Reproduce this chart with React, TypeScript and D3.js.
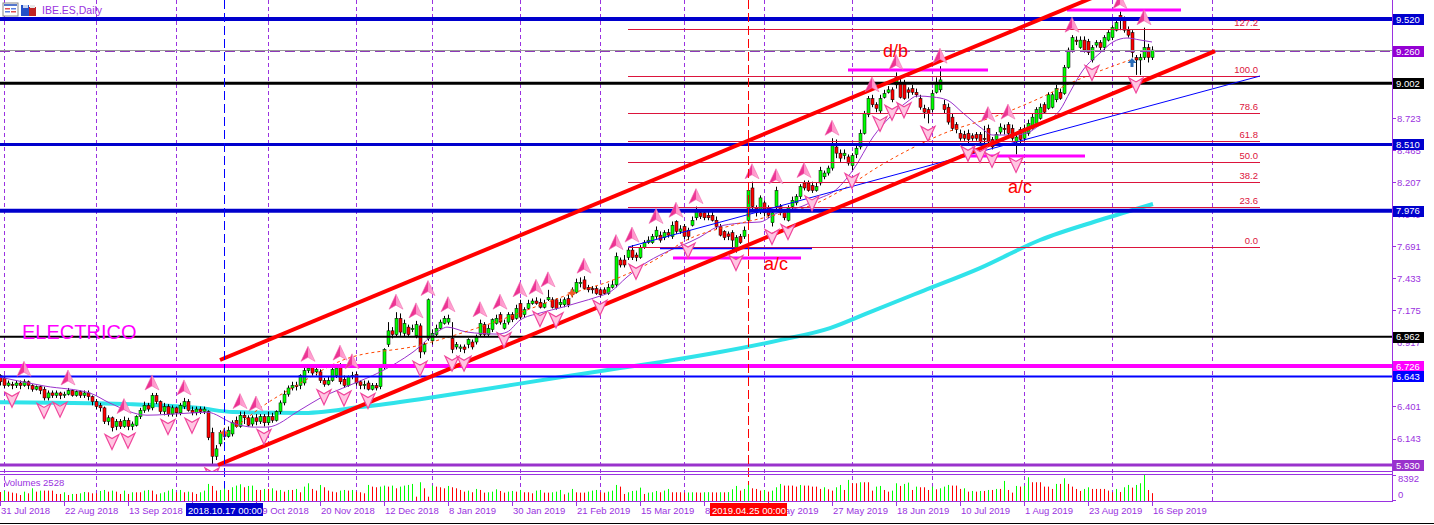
import React from "react";
import * as d3 from "d3";

// ---------- DATA ----------
// daily candles [open, high, low, close], bar 0 = 31 Jul 2018, bar 288 = 16 Sep 2019
const candles: number[][] = [
[6.65,6.66,6.57,6.60],[6.63,6.65,6.55,6.57],[6.57,6.61,6.56,6.59],[6.58,6.60,6.54,6.57],[6.57,6.61,6.55,6.59],
[6.59,6.61,6.54,6.57],[6.57,6.62,6.56,6.60],[6.60,6.61,6.54,6.57],[6.57,6.58,6.52,6.54],[6.54,6.57,6.53,6.56],
[6.56,6.57,6.50,6.53],[6.54,6.56,6.45,6.47],[6.47,6.53,6.45,6.51],[6.51,6.53,6.47,6.49],[6.49,6.53,6.47,6.51],
[6.51,6.52,6.46,6.49],[6.49,6.52,6.47,6.50],[6.50,6.55,6.49,6.53],[6.53,6.54,6.48,6.49],[6.49,6.53,6.48,6.52],
[6.52,6.53,6.47,6.49],[6.49,6.53,6.47,6.51],[6.51,6.53,6.45,6.48],[6.48,6.49,6.41,6.44],[6.44,6.46,6.38,6.40],
[6.41,6.43,6.36,6.39],[6.39,6.40,6.26,6.28],[6.28,6.33,6.25,6.31],[6.31,6.32,6.20,6.23],[6.24,6.30,6.21,6.28],
[6.28,6.30,6.22,6.24],[6.24,6.32,6.23,6.29],[6.29,6.31,6.21,6.24],[6.24,6.28,6.21,6.26],[6.25,6.33,6.24,6.32],
[6.32,6.39,6.30,6.37],[6.37,6.44,6.35,6.41],[6.41,6.43,6.36,6.38],[6.39,6.51,6.37,6.49],[6.49,6.51,6.42,6.44],
[6.44,6.45,6.34,6.36],[6.36,6.43,6.33,6.40],[6.40,6.42,6.32,6.34],[6.34,6.41,6.32,6.39],[6.39,6.40,6.32,6.35],
[6.35,6.43,6.33,6.41],[6.40,6.47,6.38,6.44],[6.44,6.46,6.36,6.37],[6.37,6.40,6.33,6.35],[6.35,6.40,6.33,6.38],
[6.38,6.40,6.34,6.36],[6.36,6.40,6.34,6.38],[6.36,6.37,6.13,6.15],[6.19,6.23,5.93,6.00],[6.00,6.09,5.97,6.06],
[6.10,6.21,6.08,6.19],[6.19,6.23,6.13,6.16],[6.16,6.24,6.15,6.21],[6.18,6.29,6.16,6.27],[6.29,6.32,6.23,6.24],
[6.24,6.36,6.23,6.33],[6.33,6.36,6.26,6.31],[6.31,6.33,6.24,6.25],[6.26,6.33,6.24,6.31],[6.31,6.34,6.25,6.28],
[6.28,6.34,6.26,6.32],[6.32,6.34,6.24,6.27],[6.27,6.36,6.25,6.32],[6.32,6.35,6.27,6.29],[6.29,6.37,6.28,6.36],
[6.36,6.45,6.34,6.43],[6.43,6.53,6.41,6.50],[6.50,6.57,6.48,6.55],[6.55,6.60,6.53,6.57],[6.57,6.60,6.53,6.56],
[6.57,6.66,6.54,6.65],[6.59,6.73,6.57,6.69],[6.69,6.74,6.67,6.71],[6.72,6.74,6.65,6.67],[6.68,6.73,6.65,6.70],
[6.68,6.70,6.59,6.61],[6.61,6.63,6.56,6.58],[6.58,6.64,6.57,6.61],[6.61,6.73,6.60,6.70],[6.65,6.73,6.63,6.71],
[6.73,6.75,6.58,6.60],[6.62,6.65,6.55,6.57],[6.57,6.65,6.56,6.64],[6.64,6.68,6.62,6.65],[6.66,6.68,6.57,6.59],
[6.60,6.61,6.54,6.57],[6.57,6.61,6.54,6.58],[6.59,6.61,6.53,6.54],[6.54,6.59,6.53,6.57],[6.57,6.59,6.53,6.55],
[6.56,6.73,6.54,6.72],[6.72,6.87,6.70,6.86],[6.90,7.08,6.88,7.01],[7.01,7.04,6.95,6.98],[6.98,7.16,6.96,7.11],
[7.11,7.15,6.97,7.00],[6.99,7.10,6.96,7.07],[7.04,7.06,6.96,6.98],[7.02,7.06,7.00,7.03],[6.97,7.09,6.95,7.06],
[7.05,7.07,6.79,6.84],[6.84,6.92,6.82,6.90],[6.95,7.27,6.93,7.26],[6.93,7.02,6.90,6.99],[6.98,7.06,6.96,7.03],
[7.03,7.10,7.02,7.08],[7.07,7.13,7.06,7.11],[7.08,7.14,7.06,7.11],[6.95,7.08,6.83,6.86],[6.88,6.92,6.86,6.90],
[6.87,6.90,6.84,6.88],[6.88,6.90,6.83,6.86],[6.90,6.95,6.87,6.94],[6.92,6.94,6.86,6.88],[6.92,6.98,6.90,6.96],
[6.98,7.10,6.96,7.07],[7.06,7.08,6.96,6.98],[6.98,7.06,6.96,7.03],[7.02,7.11,7.00,7.10],[7.07,7.14,7.06,7.11],
[7.14,7.16,7.06,7.08],[7.03,7.10,7.02,7.07],[7.08,7.16,7.06,7.14],[7.14,7.16,7.08,7.10],[7.11,7.22,7.10,7.19],
[7.23,7.26,7.10,7.12],[7.14,7.20,7.12,7.18],[7.19,7.26,7.18,7.23],[7.23,7.27,7.22,7.25],[7.25,7.28,7.22,7.23],
[7.24,7.27,7.19,7.20],[7.20,7.26,7.19,7.23],[7.26,7.34,7.25,7.28],[7.26,7.28,7.19,7.20],[7.26,7.27,7.18,7.19],
[7.22,7.27,7.20,7.24],[7.22,7.28,7.20,7.26],[7.27,7.30,7.20,7.22],[7.30,7.36,7.28,7.34],[7.32,7.43,7.31,7.40],
[7.39,7.44,7.36,7.40],[7.42,7.45,7.34,7.35],[7.36,7.38,7.32,7.34],[7.35,7.37,7.31,7.34],[7.35,7.37,7.30,7.31],
[7.34,7.35,7.28,7.30],[7.34,7.36,7.30,7.31],[7.31,7.39,7.30,7.36],[7.36,7.42,7.35,7.38],[7.38,7.64,7.36,7.61],
[7.58,7.60,7.52,7.54],[7.58,7.62,7.52,7.54],[7.60,7.68,7.58,7.66],[7.66,7.70,7.58,7.60],[7.62,7.64,7.57,7.60],
[7.60,7.70,7.59,7.68],[7.68,7.74,7.67,7.72],[7.72,7.77,7.71,7.74],[7.72,7.79,7.71,7.77],[7.77,7.85,7.75,7.82],
[7.78,7.81,7.72,7.74],[7.76,7.82,7.74,7.80],[7.80,7.83,7.76,7.78],[7.77,7.89,7.75,7.86],[7.89,7.90,7.79,7.81],
[7.81,7.86,7.79,7.83],[7.85,7.87,7.75,7.77],[7.82,7.84,7.74,7.77],[7.86,7.93,7.85,7.90],[7.92,8.01,7.90,7.98],
[7.96,7.98,7.91,7.93],[7.96,7.98,7.90,7.92],[7.94,7.97,7.90,7.92],[7.94,7.97,7.89,7.90],[7.90,7.93,7.83,7.85],
[7.85,7.87,7.77,7.78],[7.81,7.82,7.74,7.76],[7.79,7.81,7.74,7.77],[7.80,7.82,7.66,7.74],[7.68,7.78,7.64,7.76],
[7.77,7.79,7.71,7.72],[7.77,7.85,7.75,7.82],[7.90,8.19,7.89,8.14],[8.16,8.21,7.98,8.01],[8.00,8.02,7.93,7.96],
[7.97,8.10,7.95,8.08],[8.04,8.06,7.93,7.96],[8.00,8.02,7.92,7.94],[7.88,7.98,7.85,7.96],[8.01,8.17,7.98,8.14],
[8.01,8.03,7.94,7.96],[7.96,7.98,7.90,7.92],[7.90,8.02,7.89,8.00],[8.01,8.09,7.99,8.06],[8.04,8.11,8.02,8.09],
[8.09,8.19,8.07,8.17],[8.20,8.22,8.14,8.16],[8.20,8.22,8.13,8.14],[8.18,8.21,8.12,8.14],[8.14,8.20,8.13,8.17],
[8.20,8.33,8.18,8.30],[8.25,8.30,8.23,8.28],[8.28,8.34,8.26,8.32],[8.32,8.56,8.30,8.51],[8.49,8.55,8.40,8.44],
[8.44,8.47,8.37,8.40],[8.42,8.47,8.39,8.44],[8.41,8.43,8.34,8.36],[8.34,8.44,8.30,8.42],[8.43,8.51,8.40,8.48],
[8.49,8.63,8.47,8.60],[8.60,8.78,8.59,8.76],[8.75,8.90,8.73,8.88],[8.88,8.91,8.81,8.83],[8.83,8.85,8.77,8.80],
[8.78,8.91,8.76,8.88],[8.89,8.95,8.88,8.92],[8.93,8.98,8.92,8.95],[8.95,8.97,8.85,8.87],[8.99,9.09,8.96,9.05],
[9.01,9.05,8.88,8.89],[9.00,9.03,8.87,8.88],[8.95,8.97,8.88,8.93],[8.96,8.99,8.91,8.93],[8.93,8.96,8.89,8.91],
[8.88,8.91,8.79,8.81],[8.80,8.83,8.72,8.77],[8.79,8.81,8.68,8.76],[8.79,8.95,8.77,8.92],[8.93,9.05,8.92,9.01],
[8.95,9.14,8.93,9.03],[8.83,8.87,8.76,8.79],[8.81,8.84,8.67,8.69],[8.73,8.76,8.62,8.64],[8.67,8.69,8.60,8.63],
[8.60,8.63,8.54,8.56],[8.59,8.62,8.54,8.56],[8.60,8.63,8.52,8.55],[8.58,8.60,8.54,8.56],[8.59,8.61,8.54,8.56],
[8.59,8.61,8.51,8.53],[8.56,8.66,8.52,8.55],[8.64,8.67,8.51,8.53],[8.55,8.57,8.47,8.49],[8.55,8.61,8.52,8.59],
[8.61,8.68,8.59,8.65],[8.64,8.67,8.59,8.63],[8.67,8.69,8.58,8.60],[8.64,8.67,8.54,8.56],[8.53,8.59,8.43,8.57],
[8.63,8.65,8.52,8.55],[8.56,8.67,8.54,8.64],[8.60,8.71,8.58,8.68],[8.64,8.76,8.63,8.73],[8.68,8.81,8.67,8.79],
[8.72,8.84,8.71,8.81],[8.83,8.85,8.76,8.77],[8.80,8.93,8.79,8.91],[8.81,8.93,8.80,8.91],[8.87,8.99,8.85,8.96],
[8.93,8.96,8.87,8.88],[8.92,9.15,8.91,9.13],[9.13,9.29,9.12,9.27],[9.27,9.39,9.25,9.37],[9.35,9.38,9.31,9.34],
[9.29,9.38,9.28,9.35],[9.35,9.38,9.25,9.27],[9.34,9.36,9.23,9.25],[9.19,9.31,9.17,9.29],[9.31,9.35,9.29,9.33],
[9.33,9.35,9.27,9.29],[9.29,9.39,9.27,9.37],[9.35,9.43,9.34,9.41],[9.37,9.47,9.35,9.45],[9.43,9.51,9.42,9.49],
[9.55,9.58,9.43,9.51],[9.51,9.54,9.41,9.43],[9.43,9.46,9.37,9.39],[9.41,9.43,9.21,9.25],[9.21,9.23,9.07,9.19],
[9.19,9.24,9.07,9.21],[9.21,9.45,9.19,9.29],[9.29,9.32,9.17,9.21],[9.21,9.30,9.19,9.27],
];

const volumes: number[] = [
2900,3240,3020,2700,2480,1940,3020,2480,4100,3020,3350,
3350,3350,3350,2270,2270,2810,1940,2270,2270,2480,
2920,2810,2480,2480,3240,3560,3020,3350,3020,2270,
3350,2270,2810,2810,2810,3350,3560,3350,2160,2480,
2810,3350,3890,2810,3560,2810,3020,2810,2270,2810,
3350,5510,4860,3350,3560,4000,3560,4430,4970,5400,
4430,4860,4970,3560,3560,3890,3890,4100,3350,3560,
3020,3560,3560,3890,2810,4640,5720,3890,3350,5180,
4430,3350,3020,2810,3350,3560,3350,3560,3020,2810,
2480,5180,4640,4430,4640,4970,4640,4970,4100,4640,
4970,5180,5510,1400,6050,4100,1400,4970,4640,4430,
4100,4860,4430,4100,3560,3020,3350,2810,3890,3560,
2700,2810,3020,3780,3240,2700,3020,3240,3020,3560,
2810,2810,2480,3350,3560,2700,2700,2810,3020,3560,
2160,2700,3890,2810,2700,2700,3020,3350,3560,2810,
2700,3020,3350,5180,4640,2270,2810,3240,3350,4320,
2270,2700,2810,3240,2810,3350,3890,2810,2810,2810,
2700,2750,2810,2780,2700,2810,2850,2800,2760,2830,
2790,2870,3780,4860,3350,3890,5180,4100,3890,3350,
3560,3020,3350,4430,5510,4970,4970,4970,4640,5180,
4970,4970,4640,4640,3890,4430,3780,3350,4430,5180,
3560,6800,5720,5720,6050,6050,6050,3350,4640,4860,
3560,3020,3350,5720,4860,5510,5940,3560,4640,4430,
4430,3560,4640,3780,4100,4640,5180,4970,4970,3890,
4100,3020,3240,3020,3240,3240,3560,3560,3890,3890,
6480,3560,2700,4860,4640,4860,7670,6050,6050,6050,
4640,4640,3890,5510,5510,7340,5510,4640,3890,3240,
3890,4430,3890,3890,3890,3890,3350,2810,3890,2920,
4430,5180,4320,5180,5720,8392,3560,2528,
];

const dateLabels = ["31 Jul 2018","22 Aug 2018","13 Sep 2018","5 Oct 2018","29 Oct 2018","20 Nov 2018","12 Dec 2018","8 Jan 2019","30 Jan 2019","21 Feb 2019","15 Mar 2019","8 Apr 2019","2 May 2019","27 May 2019","18 Jun 2019","10 Jul 2019","1 Aug 2019","23 Aug 2019","16 Sep 2019"];
const monthStarts = [1,24,44,67,89,108,130,150,171,191,213,233,256,278,303];
const priceTicks = [6.143,6.401,6.659,6.917,7.175,7.433,7.691,7.949,8.207,8.465,8.723,8.981,9.239,9.497];

const hLinePrices = [9.520, 9.002, 8.510, 7.976, 6.962, 6.726, 6.643, 5.930];
const hLineColors = ["#0000CD","#000000","#0000CD","#0000CD","#000000","#FF00FF","#0000FF","#9932CC"];
const hLineWidths = [4, 3, 3, 4, 2, 4, 2, 3];
const dashedLevel = 9.260;

const boxPrices = [9.520, 9.260, 9.002, 8.510, 7.976, 6.962, 6.726, 6.643, 5.930];
const boxColors = ["#0000CD","#9400D3","#000000","#0000CD","#0000CD","#000000","#FF00FF","#0000FF","#9932CC"];

const fibLevels = [0, 23.6, 38.2, 50, 61.8, 78.6, 100, 127.2];
const fibStart = [157, 7.684];
const fibEnd = [315, 9.061];

const channelLower = [[54.5, 5.930],[303.75, 9.262]];
const channelUpper = [[55, 6.775],[273, 9.690]];

const magentaSegs = [[212, 247, 9.109],[266.75, 295.25, 9.592],[240, 271.25, 8.417],[168.25, 200.25, 7.596]];
const blueSeg = [165, 203, 7.676];

const violetMA = [[0,6.637],[11.25,6.565],[22.5,6.509],[27.5,6.428],[36.75,6.331],[46.75,6.347],[51.75,6.355],[58.25,6.267],[63.25,6.235],[66.75,6.235],[75,6.372],[80,6.468],[87.5,6.573],[95,6.678],[103.25,6.839],[110,7.016],[111.75,7.040],[116.75,7.000],[124.25,6.984],[126.75,7.000],[130,7.096],[135,7.153],[140.75,7.201],[145,7.241],[149.25,7.282],[152.5,7.322],[156.75,7.443],[161.75,7.563],[165,7.620],[175,7.765],[179.25,7.845],[185,7.877],[190,7.886],[194.25,7.958],[200,8.006],[205,8.079],[208.25,8.127],[213.25,8.304],[218.25,8.570],[222.5,8.731],[226.75,8.852],[229.25,8.900],[233.25,8.892],[236.75,8.868],[240.75,8.763],[245,8.650],[248.25,8.586],[253.25,8.586],[256.75,8.602],[260,8.667],[263.25,8.731],[265,8.787],[267.5,8.932],[270.75,9.109],[275,9.246],[278.25,9.335],[281.75,9.367],[285,9.351],[288,9.335]];
const orangeMA = [[59,6.235],[65,6.388],[74.25,6.573],[85.75,6.775],[105,6.895],[120,7.040],[143.25,7.314],[153.25,7.419],[165,7.604],[170.75,7.725],[183.25,7.861],[191.75,7.926],[204.25,8.039],[212.5,8.183],[218.25,8.304],[235,8.586],[251.75,8.771],[260,8.884],[268.25,9.013],[282.5,9.190]];
const cyanMA = [[0,6.436],[22.5,6.428],[32.5,6.420],[50,6.388],[58.25,6.356],[75,6.348],[90,6.396],[105,6.460],[120,6.533],[140,6.637],[155,6.710],[165,6.758],[180,6.839],[195,6.935],[207.5,7.032],[217.5,7.161],[230,7.322],[245,7.515],[260,7.741],[275,7.902],[288.25,8.031]];

const starMarks = [[56, 6.189],[143, 7.314]];
const blueArrow = [283, 9.166];
const vLineBlue = 56;
const vLineRed = 187;

const FONT = "'Liberation Sans', Arial, sans-serif";
const PURPLE = "#9A32E0";

export default function App() {
  const xs = d3.scaleLinear().domain([0, 288]).range([0, 1152]);
  const ys = d3.scaleLinear().domain([5.93, 9.52]).range([465, 19]);
  const yv = d3.scaleLinear().domain([0, 8392]).range([501, 475]);
  const px = (i: number) => Math.round(xs(i)) + 0.5;
  const py = (p: number) => Math.round(ys(p)) + 0.5;

  const line = d3.line<number[]>().x(d => xs(d[0])).y(d => ys(d[1])).curve(d3.curveMonotoneX);
  const straight = d3.line<number[]>().x(d => xs(d[0])).y(d => ys(d[1]));

  const n = candles.length;
  const upFr: number[] = [];
  const dnFr: number[] = [];
  for (let i = 2; i < n - 2; i++) {
    const h = candles[i][1], l = candles[i][2];
    if (h > candles[i-1][1] && h > candles[i-2][1] && h >= candles[i+1][1] && h >= candles[i+2][1]) upFr.push(i);
    if (l < candles[i-1][2] && l < candles[i-2][2] && l <= candles[i+1][2] && l <= candles[i+2][2]) dnFr.push(i);
  }

  const fibPrice = (lv: number) => fibStart[1] + (fibEnd[1] - fibStart[1]) * lv / 100;
  const lastClose = candles[n - 1][3];

  return (
    <div style={{ position: "absolute", left: 0, top: 0 }}>
      <svg width={1434} height={525} style={{ display: "block", background: "#fff", fontFamily: FONT }}>
        <defs>
          <clipPath id="main"><rect x={0} y={0} width={1392} height={471} /></clipPath>
          <linearGradient id="upg" x1="0" x2="1" y1="0" y2="0">
            <stop offset="0" stopColor="#E8248A" />
            <stop offset="0.5" stopColor="#EE3C98" />
            <stop offset="0.5" stopColor="#FF8EC8" />
            <stop offset="1" stopColor="#FFB6DA" />
          </linearGradient>
        </defs>
        <rect x={0} y={0} width={1434} height={525} fill="#fff" />

        {/* period separators */}
        {monthStarts.map((m, k) => (
          <line key={"ms" + k} x1={px(m)} x2={px(m)} y1={0} y2={501} stroke={PURPLE} strokeWidth={1} strokeDasharray="4,3" />
        ))}

        <g clipPath="url(#main)">
          {/* cyan MA */}
          <path d={line(cyanMA) || ""} fill="none" stroke="#30E3EA" strokeWidth={4} />

          {/* candles */}
          {candles.map((c, i) => {
            const [o, h, l, cl] = c;
            const x = px(i);
            const top = ys(Math.max(o, cl));
            const bot = ys(Math.min(o, cl));
            return (
              <g key={"c" + i}>
                <line x1={x} x2={x} y1={ys(h)} y2={ys(l)} stroke="#000" strokeWidth={1} />
                <rect x={x - 1.5} y={top} width={3} height={Math.max(1, bot - top)} fill={cl >= o ? "#00FF00" : "#FF0000"} stroke="#000" strokeWidth={0.5} />
              </g>
            );
          })}

          {/* violet and orange MAs */}
          <path d={line(violetMA) || ""} fill="none" stroke="#9932CC" strokeWidth={1} />
          <path d={line(orangeMA) || ""} fill="none" stroke="#FF4500" strokeWidth={1} strokeDasharray="3,3" />

          {/* horizontal price lines */}
          <line x1={0} x2={1392} y1={py(lastClose)} y2={py(lastClose)} stroke="#999" strokeWidth={1} />
          <line x1={0} x2={1392} y1={py(dashedLevel)} y2={py(dashedLevel)} stroke="#8E3AB8" strokeWidth={1} strokeDasharray="10,5" />
          {hLinePrices.map((p, k) => (
            <line key={"hl" + k} x1={0} x2={1392} y1={ys(p)} y2={ys(p)} stroke={hLineColors[k]} strokeWidth={hLineWidths[k]} />
          ))}

          {/* fibonacci */}
          {fibLevels.map((lv, k) => (
            <g key={"fb" + k}>
              <line x1={xs(fibStart[0])} x2={xs(fibEnd[0])} y1={py(fibPrice(lv))} y2={py(fibPrice(lv))} stroke="#DC143C" strokeWidth={1} />
              <text x={xs(fibEnd[0]) - 2} y={ys(fibPrice(lv)) - 3} fontSize={9.5} fill="#DC143C" textAnchor="end">{lv.toFixed(1)}</text>
            </g>
          ))}
          <path d={straight([fibStart, fibEnd]) || ""} stroke="#0000FF" strokeWidth={1} fill="none" />

          {/* short segments */}
          {magentaSegs.map((s, k) => (
            <line key={"mg" + k} x1={xs(s[0])} x2={xs(s[1])} y1={ys(s[2])} y2={ys(s[2])} stroke="#FF00FF" strokeWidth={3} />
          ))}
          <line x1={xs(blueSeg[0])} x2={xs(blueSeg[1])} y1={py(blueSeg[2])} y2={py(blueSeg[2])} stroke="#0000FF" strokeWidth={1.5} />

          {/* channel */}
          <path d={straight(channelLower) || ""} stroke="#FF0000" strokeWidth={4} fill="none" />
          <path d={straight(channelUpper) || ""} stroke="#FF0000" strokeWidth={4} fill="none" />

          {/* fractal arrows */}
          {upFr.map(i => {
            const cx = xs(i), by = ys(candles[i][1]) - 3;
            return <path key={"uf" + i} d={`M${cx},${by - 15} L${cx + 7},${by} L${cx},${by - 4} L${cx - 7},${by} Z`} fill="url(#upg)" stroke="#F06AAE" strokeWidth={0.6} />;
          })}
          {dnFr.map(i => {
            const cx = xs(i), ty = ys(candles[i][2]) + 3;
            return <path key={"df" + i} d={`M${cx},${ty + 15} L${cx + 7},${ty} L${cx},${ty + 4} L${cx - 7},${ty} Z`} fill="#FFC6E2" stroke="#F0469C" strokeWidth={1.2} />;
          })}

          {/* markers */}
          {starMarks.map((s, k) => {
            const cx = xs(s[0]), cy = ys(s[1]);
            return <path key={"st" + k} d={`M${cx},${cy - 5} L${cx + 1.5},${cy - 1.5} L${cx + 5},${cy} L${cx + 1.5},${cy + 1.5} L${cx},${cy + 5} L${cx - 1.5},${cy + 1.5} L${cx - 5},${cy} L${cx - 1.5},${cy - 1.5} Z`} fill="#F05A28" />;
          })}
          {(() => {
            const cx = xs(blueArrow[0]), cy = ys(blueArrow[1]);
            return <path d={`M${cx},${cy - 5} L${cx + 4.5},${cy} L${cx + 1.5},${cy} L${cx + 1.5},${cy + 4} L${cx - 1.5},${cy + 4} L${cx - 1.5},${cy} L${cx - 4.5},${cy} Z`} fill="#2A6DB8" />;
          })()}

          {/* annotations */}
          <text x={xs(220.75)} y={ys(9.214)} fontSize={18} fill="#FF0000">d/b</text>
          <text x={xs(191)} y={ys(7.499)} fontSize={18} fill="#FF0000">a/c</text>
          <text x={xs(252)} y={ys(8.119)} fontSize={18} fill="#FF0000">a/c</text>
          <text x={22} y={339} fontSize={20} fill="#FF00FF">ELECTRICO</text>
        </g>

        {/* vertical object lines */}
        <line x1={px(vLineBlue)} x2={px(vLineBlue)} y1={0} y2={501} stroke="#0000FF" strokeWidth={1} strokeDasharray="9,4" />
        <line x1={px(vLineRed)} x2={px(vLineRed)} y1={0} y2={501} stroke="#FF0000" strokeWidth={1} strokeDasharray="9,4" />

        {/* volumes */}
        {volumes.map((v, i) => (
          <line key={"v" + i} x1={px(i)} x2={px(i)} y1={yv(v)} y2={501} stroke={i > 0 && v > volumes[i - 1] ? "#00FF00" : "#FF0000"} strokeWidth={1} />
        ))}
        <text x={4} y={486} fontSize={9.5} fill={PURPLE}>Volumes {volumes[volumes.length - 1]}</text>

        {/* frames */}
        <line x1={0} x2={1392} y1={471.5} y2={471.5} stroke={PURPLE} strokeWidth={1} />
        <line x1={0} x2={1392} y1={474.5} y2={474.5} stroke={PURPLE} strokeWidth={1} />
        <line x1={0} x2={1392} y1={501.5} y2={501.5} stroke={PURPLE} strokeWidth={1} />
        <line x1={1392.5} x2={1392.5} y1={0} y2={502} stroke={PURPLE} strokeWidth={1} />
        <line x1={0} x2={1434} y1={523.5} y2={523.5} stroke="#000" strokeWidth={1} />

        {/* price axis */}
        {priceTicks.map((t, k) => (
          <g key={"pt" + k}>
            <line x1={1392} x2={1396} y1={py(t)} y2={py(t)} stroke={PURPLE} />
            <text x={1397} y={ys(t) + 3.5} fontSize={9.5} fill={PURPLE}>{t.toFixed(3)}</text>
          </g>
        ))}
        {boxPrices.map((p, k) => (
          <g key={"bx" + k}>
            <rect x={1393} y={Math.round(ys(p)) - 5} width={31} height={11} fill={boxColors[k]} />
            <text x={1396} y={ys(p) + 3.5} fontSize={9.5} fill="#fff">{p.toFixed(3)}</text>
          </g>
        ))}
        {/* volume axis */}
        <line x1={1392} x2={1396} y1={475.5} y2={475.5} stroke={PURPLE} />
        <line x1={1392} x2={1396} y1={500.5} y2={500.5} stroke={PURPLE} />
        <text x={1398} y={482} fontSize={9.5} fill={PURPLE}>{d3.max(volumes)}</text>
        <text x={1398} y={498} fontSize={9.5} fill={PURPLE}>0</text>

        {/* time axis */}
        {dateLabels.map((lab, k) => (
          <g key={"dl" + k}>
            <line x1={px(k * 16)} x2={px(k * 16)} y1={501} y2={506} stroke={PURPLE} />
            <text x={xs(k * 16) + 1} y={514} fontSize={9.5} fill={PURPLE}>{lab}</text>
          </g>
        ))}
        <rect x={Math.round(xs(vLineBlue)) - 38} y={503} width={77} height={13} fill="#0000CD" />
        <text x={Math.round(xs(vLineBlue)) - 36} y={513.5} fontSize={9.5} fill="#fff">2018.10.17 00:00</text>
        <rect x={Math.round(xs(vLineRed)) - 38} y={503} width={77} height={13} fill="#FF0000" />
        <text x={Math.round(xs(vLineRed)) - 36} y={513.5} fontSize={9.5} fill="#fff">2019.04.25 00:00</text>

        {/* header */}
        <rect x={3} y={3} width={15} height={13} fill="#fff" stroke="#8A8A8A" />
        <rect x={4} y={4} width={13} height={2} fill="#5577CC" />
        <rect x={5} y={8} width={5} height={1.5} fill="#E05050" />
        <rect x={11} y={8} width={5} height={1.5} fill="#5A7FE0" />
        <rect x={5} y={11} width={5} height={1.5} fill="#5A7FE0" />
        <rect x={11} y={11} width={5} height={1.5} fill="#E05050" />
        <rect x={21} y={5} width={8} height={11} fill="#2450C8" />
        <rect x={23} y={5} width={5} height={3} fill="#C8D4F0" />
        <rect x={29} y={7} width={7} height={9} fill="#C02424" />
        <rect x={30} y={5} width={5} height={3} fill="#E8E8E8" />
        <text x={42} y={14} fontSize={10.5} fill={PURPLE}>IBE.ES,Daily</text>
      </svg>
    </div>
  );
}
